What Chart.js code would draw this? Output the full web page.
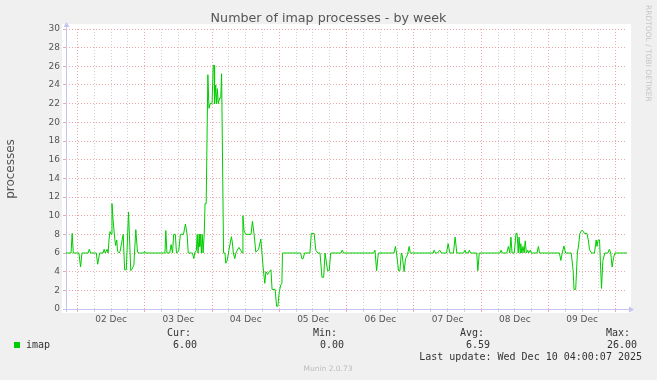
<!DOCTYPE html>
<html>
<head>
<meta charset="utf-8">
<title>imap processes - by week</title>
<script src="https://cdn.jsdelivr.net/npm/chart.js@4.4.1/dist/chart.umd.min.js"></script>
<style>
  html, body { margin: 0; padding: 0; background: #f0f0f0; }
</style>
</head>
<body>
<canvas id="imapChart" width="657" height="380"></canvas>
<script>
// hours since 01 Dec 00:00 (munin week view)
const hours = [
  19.9, 21.7, 22.1, 22.5, 24.5, 25.1, 25.6, 27.8, 28.2, 28.7,
  30.7, 31.2, 31.9, 33.1, 33.5, 33.9, 34.6, 34.9, 35.3, 35.6,
  36.0, 36.3, 36.7, 37.3, 37.6, 38.0, 38.3, 38.9, 39.2, 40.3,
  40.8, 41.4, 42.2, 43.0, 43.5, 44.1, 44.8, 45.4, 46.0, 47.6,
  47.9, 48.2, 55.2, 55.5, 55.9, 56.9, 57.4, 57.9, 58.3, 58.9,
  59.3, 60.1, 60.7, 61.8, 62.5, 63.1, 63.5, 65.0, 65.5, 65.8,
  66.4, 66.7, 67.0, 67.4, 67.6, 67.9, 68.2, 68.5, 68.8, 69.2,
  69.5, 69.9, 70.5, 70.9, 71.3, 72.0, 72.4, 72.7, 72.9, 73.3,
  73.6, 73.9, 74.2, 74.7, 75.1, 75.4, 76.1, 76.6, 76.9, 77.4,
  78.0, 78.9, 79.2, 79.6, 80.1, 80.5, 81.0, 81.6, 82.2, 82.7,
  83.0, 83.4, 84.0, 85.9, 86.4, 87.0, 87.6, 88.6, 89.4, 89.8,
  90.2, 90.8, 91.2, 91.8, 92.4, 93.0, 93.4, 94.5, 95.0, 95.5,
  95.9, 96.5, 96.9, 97.1, 103.6, 104.0, 104.5, 105.0, 106.9, 107.4,
  108.4, 109.0, 109.7, 110.5, 111.2, 111.8, 112.3, 112.6, 113.2, 113.8,
  114.3, 118.0, 118.4, 118.9, 129.6, 130.1, 130.7, 131.3, 136.9, 137.4,
  137.8, 138.5, 139.0, 139.5, 139.8, 140.5, 141.0, 141.7, 142.3, 142.7,
  150.9, 151.2, 151.7, 152.4, 153.2, 153.8, 155.6, 156.2, 156.8, 158.1,
  158.7, 159.3, 161.7, 162.2, 162.6, 163.3, 163.8, 164.2, 166.4, 166.8,
  167.3, 174.7, 175.1, 175.5, 177.1, 177.7, 178.2, 178.6, 179.0, 179.8,
  180.4, 180.8, 181.2, 181.5, 181.9, 182.1, 182.5, 182.9, 183.3, 183.7,
  184.1, 184.6, 184.9, 185.5, 185.9, 187.9, 188.4, 188.8, 195.9, 196.4,
  196.9, 197.5, 198.1, 200.1, 200.8, 201.1, 201.7, 202.3, 202.7, 203.2,
  203.8, 204.2, 204.8, 205.7, 206.2, 206.6, 207.3, 208.4, 209.0, 209.3,
  209.7, 210.2, 210.9, 211.4, 212.1, 213.2, 213.7, 214.2, 214.7, 215.2,
  215.7, 220.0
];
const imap = [
  6, 6, 8.1, 6, 6, 4.5, 6, 6, 6.4, 6,
  6, 4.8, 6, 6, 6.4, 6, 6.4, 6, 7.6, 8.3,
  8, 11.3, 9.5, 7.5, 6.8, 7.4, 6.2, 6, 6.2, 8,
  4.2, 4.2, 10.4, 4.1, 4.3, 4.7, 8.5, 6.1, 6, 6,
  6.2, 6, 6, 8.4, 6, 6, 6.9, 6, 8, 8,
  6, 6.2, 8, 8, 9.1, 8, 6, 6, 5.4, 6,
  6.3, 8, 6, 8, 6.7, 8, 6, 8, 6, 8,
  11.3, 11.3, 25.1, 21.5, 22, 22, 26.1, 26.1, 22, 24,
  22, 23.6, 22, 22.6, 22.6, 25.2, 6, 6, 4.9, 5.2,
  6.3, 7.75, 7.2, 6, 5.4, 6, 6.3, 6.6, 6.3, 6,
  10, 8.4, 8, 8, 9.4, 8, 6.1, 6.4, 7.5, 6,
  4.5, 2.75, 4, 3.7, 4, 4.2, 2.1, 2.1, 0.3, 0.3,
  1.7, 2.6, 2.7, 6, 6, 5.4, 5.4, 6, 6, 8.1,
  8.1, 6.3, 6, 6, 3.4, 3.4, 6, 6, 4.1, 4.1,
  6, 6, 6.3, 6, 6, 6.3, 4.1, 6, 6, 6.7,
  6, 4.1, 4.1, 6, 5.8, 4, 5.4, 5.8, 6.7, 6,
  6, 6.3, 6, 6, 6.3, 6, 6, 7, 6, 6,
  7.7, 6, 6, 6.3, 6, 6, 6.3, 6, 6, 4.1,
  6, 6, 6.3, 6, 6, 6.7, 6, 7.7, 6, 6,
  8.1, 8.1, 6, 7.7, 6, 7, 6, 6.7, 6, 7.3,
  6, 6.3, 6, 6.3, 6, 6, 6.7, 6, 6, 5.2,
  6, 6.75, 6, 6, 4.1, 2.1, 2.1, 6, 6.75, 8.1,
  8.4, 8.4, 8.1, 8.1, 7.4, 6.4, 6, 6, 7.4, 6.7,
  7.4, 7.4, 2.2, 5.2, 6, 6, 6.4, 6, 4.5, 5.5,
  6, 6
];

const chartTitle = "Number of imap processes - by week";
const statLabels = ["Cur:", "Min:", "Avg:", "Max:"];
const statValues = ["6.00", "0.00", "6.59", "26.00"];
const lastUpdate = "Last update: Wed Dec 10 04:00:07 2025";

const SANS = "'DejaVu Sans', sans-serif";
const MONO = "'DejaVu Sans Mono', monospace";
const RED_GRID = "#eeaaaa";
const GREY_GRID = "#d2d2d2";
const AXIS = "#c4c4f2";

function dayLabel(h) {
  const day = Math.floor(h / 24) + 1;
  return (day < 10 ? "0" + day : "" + day) + " Dec";
}

// white canvas, axes with arrows, title and munin legend
const muninFrame = {
  id: "muninFrame",
  beforeDraw(chart) {
    const { ctx, chartArea: a } = chart;
    ctx.save();
    ctx.fillStyle = "#f0f0f0";
    ctx.fillRect(0, 0, chart.width, chart.height);
    ctx.fillStyle = "#ffffff";
    ctx.fillRect(a.left - 4, a.top - 5, a.right - a.left + 8, a.bottom - a.top + 9);
    ctx.restore();
  },
  beforeDatasetsDraw(chart) {
    const { ctx, chartArea: a } = chart;
    ctx.save();
    ctx.strokeStyle = AXIS;
    ctx.fillStyle = AXIS;
    ctx.lineWidth = 1;
    ctx.beginPath();
    ctx.moveTo(a.left - 3, a.bottom + 0.5);
    ctx.lineTo(a.right + 3, a.bottom + 0.5);
    ctx.moveTo(a.left + 0.5, a.bottom + 3);
    ctx.lineTo(a.left + 0.5, a.top - 3);
    ctx.stroke();
    ctx.beginPath();
    ctx.moveTo(a.right + 2, a.bottom - 2.5);
    ctx.lineTo(a.right + 7, a.bottom + 0.5);
    ctx.lineTo(a.right + 2, a.bottom + 3.5);
    ctx.closePath();
    ctx.fill();
    ctx.beginPath();
    ctx.moveTo(a.left - 2.5, a.top - 2);
    ctx.lineTo(a.left + 0.5, a.top - 7);
    ctx.lineTo(a.left + 3.5, a.top - 2);
    ctx.closePath();
    ctx.fill();
    ctx.restore();
  },
  afterDraw(chart) {
    const ctx = chart.ctx;
    ctx.save();
    ctx.textBaseline = "middle";

    // title, centred on the whole image
    ctx.font = "12.7px " + SANS;
    ctx.fillStyle = "#555555";
    ctx.textAlign = "center";
    ctx.fillText(chartTitle, 328.5, 19);

    // legend
    ctx.fillStyle = "#00cc00";
    ctx.fillRect(14, 342, 6, 6);
    ctx.font = "10px " + MONO;
    ctx.fillStyle = "#333333";
    ctx.textAlign = "left";
    ctx.fillText("imap", 26, 345);
    const labelRight = [191, 337, 484, 630];
    const valueRight = [197, 344, 490, 637];
    ctx.textAlign = "right";
    statLabels.forEach((t, i) => ctx.fillText(t, labelRight[i], 333));
    statValues.forEach((t, i) => ctx.fillText(t, valueRight[i], 345));
    ctx.fillText(lastUpdate, 642, 357);

    // footer
    ctx.font = "7.5px " + SANS;
    ctx.fillStyle = "#bdbdbd";
    ctx.textAlign = "center";
    ctx.fillText("Munin 2.0.73", 328, 369);

    // rrdtool watermark, reading downwards
    ctx.translate(648, 5);
    ctx.rotate(Math.PI / 2);
    ctx.textAlign = "left";
    ctx.fillStyle = "#c6c6c6";
    ctx.fillText("RRDTOOL / TOBI OETIKER", 0, 0);
    ctx.restore();
  }
};

const imapChart = new Chart(document.getElementById("imapChart").getContext("2d"), {
  type: "line",
  data: {
    datasets: [
      {
        label: "imap",
        data: hours.map((h, i) => ({ x: h, y: imap[i] })),
        borderColor: "#00cc00",
        borderWidth: 1,
        pointRadius: 0,
        fill: false,
        tension: 0,
      },
    ],
  },
  options: {
    responsive: false,
    devicePixelRatio: 1,
    animation: false,
    layout: { padding: { left: 0, right: 30, top: 29, bottom: 0 } },
    plugins: {
      legend: { display: false },
      tooltip: { enabled: false },
      title: { display: false },
    },
    scales: {
      x: {
        type: "linear",
        min: 19.9,
        max: 220,
        afterFit: (scale) => { scale.height = 71; },
        border: { display: false, dash: [1, 2] },
        grid: {
          color: (c) => (c.tick && c.tick.value % 24 === 0 ? RED_GRID : GREY_GRID),
          tickLength: 3,
          tickBorderDash: [],
        },
        ticks: {
          stepSize: 6,
          includeBounds: false,
          autoSkip: false,
          maxRotation: 0,
          padding: 2,
          color: "#555555",
          font: { family: SANS, size: 9 },
          callback: (v) => (v % 24 === 12 ? dayLabel(v) : ""),
        },
      },
      y: {
        min: 0,
        max: 30,
        afterFit: (scale) => { scale.width = 66; },
        border: { display: false, dash: [1, 2] },
        grid: {
          color: (c) => (c.tick && c.tick.value % 2 === 0 ? RED_GRID : GREY_GRID),
          tickLength: 3,
          tickBorderDash: [],
        },
        ticks: {
          stepSize: 1,
          padding: 3,
          color: "#555555",
          font: { family: SANS, size: 9 },
          callback: (v) => (v % 2 === 0 ? v : ""),
        },
        title: {
          display: true,
          text: "processes",
          color: "#555555",
          font: { family: SANS, size: 12 },
          padding: { top: 4, bottom: 4 },
        },
      },
    },
  },
  plugins: [muninFrame],
});
</script>
</body>
</html>
